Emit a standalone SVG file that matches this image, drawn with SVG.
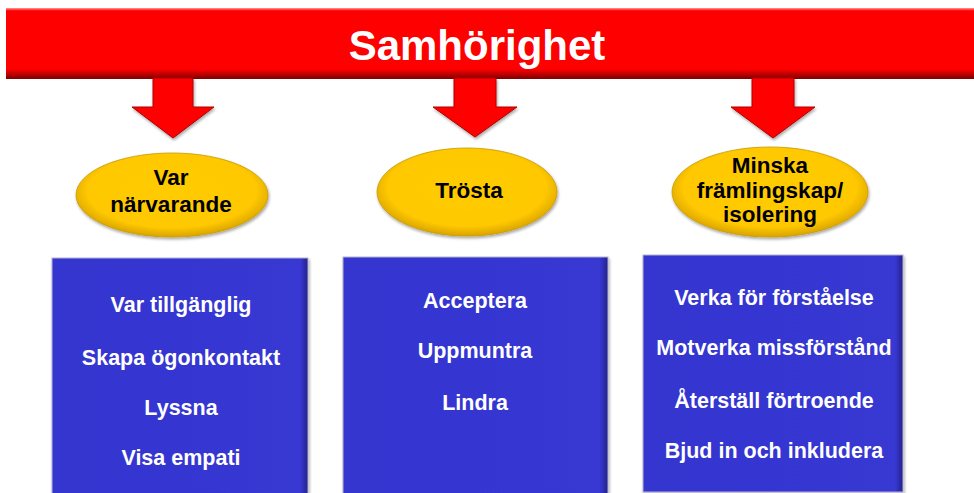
<svg xmlns="http://www.w3.org/2000/svg" width="974" height="493" viewBox="0 0 974 493">
  <defs>
    <linearGradient id="barGrad" x1="0" y1="0" x2="0" y2="1">
      <stop offset="0" stop-color="#ff9a9a"/>
      <stop offset="0.04" stop-color="#ff0000"/>
      <stop offset="0.86" stop-color="#ff0000"/>
      <stop offset="0.93" stop-color="#c00000"/>
      <stop offset="1" stop-color="#7a0000"/>
    </linearGradient>
    <radialGradient id="ellGrad" cx="0.5" cy="0.45" r="0.55">
      <stop offset="0" stop-color="#ffcc00"/>
      <stop offset="0.8" stop-color="#ffc800"/>
      <stop offset="1" stop-color="#d9a400"/>
    </radialGradient>
    <linearGradient id="boxGrad" x1="0" y1="0" x2="1" y2="0">
      <stop offset="0" stop-color="#3535d0"/>
      <stop offset="0.97" stop-color="#3737d2"/>
      <stop offset="1" stop-color="#22228a"/>
    </linearGradient>
    <filter id="soft" x="-10%" y="-10%" width="120%" height="130%">
      <feGaussianBlur in="SourceAlpha" stdDeviation="1.5"/>
      <feOffset dx="1" dy="2" result="b"/>
      <feComponentTransfer><feFuncA type="linear" slope="0.35"/></feComponentTransfer>
      <feMerge><feMergeNode/><feMergeNode in="SourceGraphic"/></feMerge>
    </filter>
  </defs>
  <style>
    .ttl { font-family: "Liberation Sans", Arial, sans-serif; font-weight: bold; font-size: 42px; fill: #ffffff; text-anchor: middle; }
    .ell { fill: url(#ellGrad); stroke: #c99a00; stroke-width: 0.8; filter: url(#soft); }
    .etx { font-family: "Liberation Sans", Arial, sans-serif; font-weight: bold; font-size: 22.5px; fill: #000000; text-anchor: middle; }
    .box { fill: url(#boxGrad); stroke: #b4b4d0; stroke-width: 1; filter: url(#soft); }
    .btx { font-family: "Liberation Sans", Arial, sans-serif; font-weight: bold; font-size: 21.5px; fill: #ffffff; text-anchor: middle; }
    .arr { fill: #ff0000; stroke: #b00000; stroke-width: 1; stroke-linejoin: miter; filter: url(#soft); }
  </style>

  <rect width="974" height="493" fill="#ffffff"/>

  <g id="samhorighet">
    <rect x="6" y="8" width="980" height="71" fill="url(#barGrad)"/>
    <text class="ttl" x="477" y="60">Samhörighet</text>
  </g>

  <g id="connectors">
    <polygon class="arr" points="153,78 193,78 193,107 214,107 173,138 132,107 153,107"/>
    <polygon class="arr" points="454,78 496,78 496,107 517,107 475,137 433,107 454,107"/>
    <polygon class="arr" points="752,78 794,78 794,107 815,107 773,138 731,107 752,107"/>
  </g>

  <g id="var-narvarande">
    <ellipse class="ell" cx="172" cy="195" rx="96" ry="42"/>
    <text class="etx" x="171" y="185">Var</text>
    <text class="etx" x="171" y="212">närvarande</text>
  </g>

  <g id="trosta">
    <ellipse class="ell" cx="467" cy="192" rx="90" ry="44"/>
    <text class="etx" x="469" y="198" font-size="23.5">Trösta</text>
  </g>

  <g id="minska">
    <ellipse class="ell" cx="770" cy="192" rx="98" ry="45"/>
    <text class="etx" x="770" y="173">Minska</text>
    <text class="etx" x="770" y="198">främlingskap/</text>
    <text class="etx" x="770" y="222">isolering</text>
  </g>

  <g id="box-narvaro">
    <rect class="box" x="52" y="258" width="256" height="240"/>
    <text class="btx" x="181" y="312">Var tillgänglig</text>
    <text class="btx" x="181" y="365">Skapa ögonkontakt</text>
    <text class="btx" x="181" y="415">Lyssna</text>
    <text class="btx" x="181" y="465">Visa empati</text>
  </g>

  <g id="box-trosta">
    <rect class="box" x="343" y="257" width="265" height="240"/>
    <text class="btx" x="475" y="308">Acceptera</text>
    <text class="btx" x="475" y="358">Uppmuntra</text>
    <text class="btx" x="475" y="410">Lindra</text>
  </g>

  <g id="box-minska">
    <rect class="box" x="643" y="255" width="260" height="237"/>
    <text class="btx" x="774" y="305">Verka för förståelse</text>
    <text class="btx" x="774" y="355">Motverka missförstånd</text>
    <text class="btx" x="774" y="408">Återställ förtroende</text>
    <text class="btx" x="774" y="458">Bjud in och inkludera</text>
  </g>
</svg>
